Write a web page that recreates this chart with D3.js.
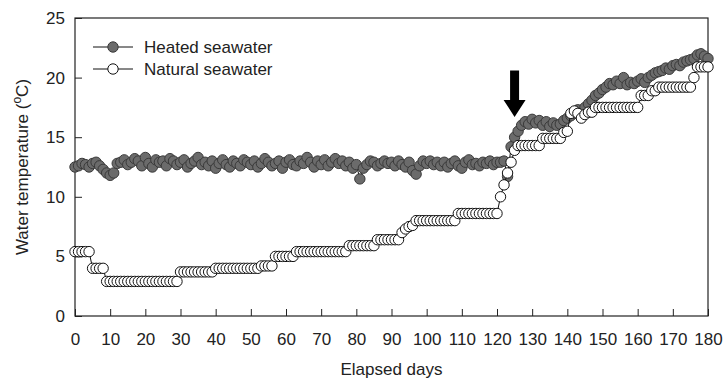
<!DOCTYPE html>
<html>
<head>
<meta charset="utf-8">
<script src="https://cdn.jsdelivr.net/npm/d3@7"></script>
<style>
  body { margin: 0; background: #fff; }
  svg { display: block; font-family: "Liberation Sans", Arial, sans-serif; }
</style>
</head>
<body>
<div id="chart"></div>
<script>
// elapsed days 0..180, one reading per day
var days = d3.range(0, 181);

var heated = [
  12.5, 12.6, 12.8, 12.7, 12.5, 12.8, 12.9, 12.6, 12.3, 12.0,
  11.8, 12.0, 12.8, 12.9, 13.1, 12.7, 12.9, 13.2, 13.0, 12.6,
  13.3, 12.8, 12.5, 13.1, 12.9, 13.0, 12.6, 13.2, 13.0, 12.7,
  12.9, 13.1, 12.5, 12.8, 13.0, 13.3, 12.7, 12.9, 12.6, 13.0,
  12.4, 12.8, 13.1, 12.7, 12.5, 13.0, 12.8, 12.6, 13.1, 12.9,
  12.7, 13.0, 12.5, 12.8, 13.2, 12.9, 12.6, 12.8, 13.0, 12.4,
  12.9, 13.1, 12.7, 12.6, 13.0, 12.8, 13.3, 12.9, 12.5, 13.0,
  12.7, 13.1, 12.6, 12.9, 13.2, 12.8, 13.0, 12.6, 12.9, 12.4,
  12.7, 11.5, 12.4, 12.7, 13.0, 12.9, 12.6, 12.8, 13.0, 12.8,
  12.9, 12.6, 13.0, 12.7, 12.5, 12.9, 12.2, 11.9, 12.6, 13.0,
  12.8, 13.0, 12.7, 12.9, 12.6, 12.9, 12.5, 12.8, 13.0, 12.6,
  12.4, 12.9, 13.1, 12.7, 12.8, 12.6, 12.9, 12.8, 13.0, 12.7,
  12.9, 12.9, 13.0, 11.7, 14.2, 15.0, 15.5, 16.0, 16.3, 16.1,
  16.5, 16.2, 16.4, 16.0, 16.3, 15.9, 16.2, 16.0, 16.1, 16.4,
  16.6, 16.8, 17.0, 17.3, 17.0, 17.5, 17.8, 18.1, 18.5, 18.7,
  19.0, 19.2, 19.5, 19.4, 19.7, 19.5, 20.0, 19.4, 19.6, 19.5,
  19.7, 19.9, 19.6, 20.0, 20.2, 20.4, 20.5, 20.6, 20.8, 20.7,
  21.0, 21.1, 21.0, 21.3, 21.4, 21.5, 21.6, 21.9, 22.0, 21.8,
  21.6
];

var natural = [
  5.4, 5.4, 5.4, 5.4, 5.4, 4.0, 4.0, 4.0, 4.0, 2.9,
  2.9, 2.9, 2.9, 2.9, 2.9, 2.9, 2.9, 2.9, 2.9, 2.9,
  2.9, 2.9, 2.9, 2.9, 2.9, 2.9, 2.9, 2.9, 2.9, 2.9,
  3.7, 3.7, 3.7, 3.7, 3.7, 3.7, 3.7, 3.7, 3.7, 3.7,
  4.0, 4.0, 4.0, 4.0, 4.0, 4.0, 4.0, 4.0, 4.0, 4.0,
  4.0, 4.0, 4.0, 4.2, 4.2, 4.2, 4.2, 5.0, 5.0, 5.0,
  5.0, 5.0, 5.0, 5.4, 5.4, 5.4, 5.4, 5.4, 5.4, 5.4,
  5.4, 5.4, 5.4, 5.4, 5.4, 5.4, 5.4, 5.4, 5.9, 5.9,
  5.9, 5.9, 5.9, 5.9, 5.9, 5.9, 6.4, 6.4, 6.4, 6.4,
  6.4, 6.4, 6.4, 7.0, 7.3, 7.5, 7.6, 8.0, 8.0, 8.0,
  8.0, 8.0, 8.0, 8.0, 8.0, 8.0, 8.0, 8.0, 8.0, 8.6,
  8.6, 8.6, 8.6, 8.6, 8.6, 8.6, 8.6, 8.6, 8.6, 8.6,
  8.6, 10.0, 11.0, 12.0, 12.9, 13.9, 14.3, 14.3, 14.3, 14.3,
  14.3, 14.3, 14.3, 14.9, 14.9, 14.9, 14.9, 14.9, 14.9, 15.4,
  15.5, 17.0, 17.2, 17.0, 16.6, 16.9, 17.1, 17.1, 17.5, 17.5,
  17.5, 17.5, 17.5, 17.5, 17.5, 17.5, 17.5, 17.5, 17.5, 17.5,
  17.5, 18.5, 18.5, 18.5, 18.9, 18.9, 19.2, 19.2, 19.2, 19.2,
  19.2, 19.2, 19.2, 19.2, 19.2, 19.2, 20.0, 20.9, 20.9, 20.9,
  20.9
];

var xTicks = [0, 10, 20, 30, 40, 50, 60, 70, 80, 90, 100, 110, 120, 130, 140, 150, 160, 170, 180];
var yTicks = [0, 5, 10, 15, 20, 25];
var seriesNames = ['Heated seawater', 'Natural seawater'];
// arrow marks the start of natural warming
var arrowDay = 125, arrowTop = 20.6, arrowTip = 16.7;

var width = 726, height = 382;
var margin = {top: 18, right: 18, bottom: 66, left: 75};

var x = d3.scaleLinear().domain([0, 180]).range([margin.left, width - margin.right]);
var y = d3.scaleLinear().domain([0, 25]).range([height - margin.bottom, margin.top]);

var svg = d3.select('#chart').append('svg')
  .attr('width', width)
  .attr('height', height);

// frame
svg.append('rect')
  .attr('x', x(0)).attr('y', y(25))
  .attr('width', x(180) - x(0)).attr('height', y(0) - y(25))
  .attr('fill', 'none').attr('stroke', '#222').attr('stroke-width', 1.2);

// x axis, ticks point up into the plot
var xAxis = svg.append('g')
  .attr('transform', 'translate(0,' + y(0) + ')')
  .call(d3.axisBottom(x).tickValues(xTicks).tickSizeInner(-7).tickSizeOuter(0).tickPadding(17));
xAxis.select('.domain').remove();
xAxis.selectAll('line').attr('stroke', '#222');
xAxis.selectAll('text').attr('font-size', 17).attr('fill', '#222')
  .attr('font-family', '"Liberation Sans", Arial, sans-serif');

var yAxis = svg.append('g')
  .attr('transform', 'translate(' + x(0) + ',0)')
  .call(d3.axisLeft(y).tickValues(yTicks).tickSizeInner(-7).tickSizeOuter(0).tickPadding(10));
yAxis.select('.domain').remove();
yAxis.selectAll('line').attr('stroke', '#222');
yAxis.selectAll('text').attr('font-size', 17).attr('fill', '#222')
  .attr('font-family', '"Liberation Sans", Arial, sans-serif');

// axis titles
svg.append('text')
  .attr('x', (x(0) + x(180)) / 2)
  .attr('y', 375)
  .attr('text-anchor', 'middle')
  .attr('font-size', 17).attr('fill', '#222')
  .text('Elapsed days');

var yl = svg.append('text')
  .attr('transform', 'translate(28,' + ((y(0) + y(25)) / 2) + ') rotate(-90)')
  .attr('text-anchor', 'middle')
  .attr('font-size', 17).attr('fill', '#222');
yl.append('tspan').text('Water temperature (');
yl.append('tspan').attr('font-size', 12).attr('dy', -7).text('o');
yl.append('tspan').attr('dy', 7).text('C)');

var line = d3.line().x(function (d, i) { return x(days[i]); }).y(function (d) { return y(d); });

var styles = [
  {data: heated, fill: '#6b6b6b', stroke: '#3a3a3a'},
  {data: natural, fill: '#ffffff', stroke: '#111'}
];

styles.forEach(function (s) {
  svg.append('path')
    .datum(s.data)
    .attr('d', line)
    .attr('fill', 'none')
    .attr('stroke', '#111')
    .attr('stroke-width', 1);
  svg.append('g').selectAll('circle')
    .data(s.data)
    .enter()
    .append('circle')
    .attr('cx', function (d, i) { return x(days[i]); })
    .attr('cy', function (d) { return y(d); })
    .attr('r', 5.2)
    .attr('fill', s.fill)
    .attr('stroke', s.stroke)
    .attr('stroke-width', 1);
});

// arrow
var ax = x(arrowDay), a0 = y(arrowTop), a1 = y(arrowTip);
svg.append('path')
  .attr('d', 'M' + (ax - 4.5) + ',' + a0 + 'H' + (ax + 4.5) + 'V' + (a1 - 17) +
    'H' + (ax + 11) + 'L' + ax + ',' + a1 + 'L' + (ax - 11) + ',' + (a1 - 17) +
    'H' + (ax - 4.5) + 'Z')
  .attr('fill', '#000');

// legend
var legend = svg.append('g').attr('transform', 'translate(93,47)');
seriesNames.forEach(function (name, i) {
  var g = legend.append('g').attr('transform', 'translate(0,' + i * 22 + ')');
  g.append('line').attr('x1', 0).attr('x2', 40).attr('y1', 0).attr('y2', 0)
    .attr('stroke', '#111').attr('stroke-width', 1);
  g.append('circle').attr('cx', 20).attr('cy', 0).attr('r', 5.2)
    .attr('fill', styles[i].fill).attr('stroke', styles[i].stroke);
  g.append('text').attr('x', 51).attr('y', 6)
    .attr('font-size', 17).attr('fill', '#222')
    .text(name);
});
</script>
</body>
</html>
